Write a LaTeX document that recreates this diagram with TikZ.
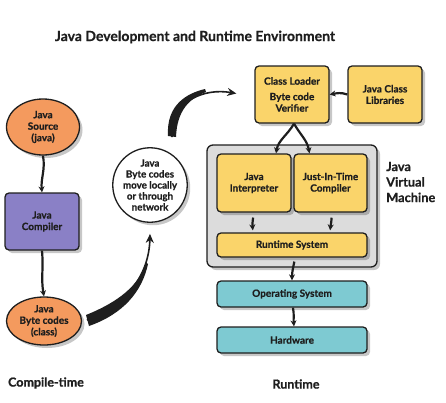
\documentclass[tikz,border=0pt]{standalone}
\usepackage{fontspec}
\setmainfont{Lato}[BoldFeatures={FakeBold=0.6}]
\usetikzlibrary{shapes.geometric,arrows.meta,shadows,calc}
\definecolor{ink}{HTML}{1E1E1E}
\definecolor{orangefill}{HTML}{F49A5E}
\definecolor{purplefill}{HTML}{8A80C6}
\definecolor{yellowfill}{HTML}{FAD46A}
\definecolor{tealfill}{HTML}{7ECAD2}
\definecolor{grayfill}{HTML}{DCDCDC}
\begin{document}
\begin{tikzpicture}[x=1pt,y=-1pt,
  base/.style={draw=ink,line width=1.3pt,inner sep=0pt,align=center,
    font=\fontsize{10}{11.5}\selectfont\bfseries,text=ink,
    drop shadow={shadow xshift=3pt,shadow yshift=-3pt,fill=black,opacity=0.22}},
  oval/.style={base,ellipse,fill=orangefill},
  cbox/.style={base,rectangle,rounded corners=4pt,fill=purplefill},
  ybox/.style={base,rectangle,rounded corners=4pt,fill=yellowfill},
  tbox/.style={base,rectangle,rounded corners=4pt,fill=tealfill},
  arr/.style={draw=ink,line width=2.2pt,-{Stealth[length=6pt,width=6pt]}},
  lbl/.style={font=\fontsize{12.5}{14}\selectfont\bfseries,text=ink,inner sep=0pt}
]
\useasboundingbox (0,0) rectangle (446,402);
\node[lbl,font=\fontsize{14}{16}\selectfont\bfseries] (title) at (195,37) {Java Development and Runtime Environment};

\node[oval,minimum width=73pt,minimum height=56pt] (src) at (43,127) {Java\\Source\\(java)};
\node[cbox,minimum width=74pt,minimum height=57pt] (comp) at (42,221.5) {Java\\Compiler};
\node[oval,minimum width=75pt,minimum height=48pt] (bc) at (44,321) {Java\\Byte codes\\(class)};
\node[lbl] (ct) at (46,383) {Compile-time};

\node[base,circle,fill=white,minimum size=72pt,font=\fontsize{9.8}{11}\selectfont\bfseries] (net) at (150,185) {Java\\Byte codes\\move locally\\or through\\network};

\node[ybox,minimum width=74pt,minimum height=57pt] (cl) at (292,94.5) {Class Loader\\[4pt]Byte code\\Verifier};
\node[ybox,minimum width=74pt,minimum height=57pt] (jcl) at (385,94.5) {Java Class\\Libraries};

\node[base,rectangle,rounded corners=6pt,fill=grayfill,minimum width=170pt,minimum height=122pt] (jvm) at (292,206) {};
\node[ybox,minimum width=74pt,minimum height=58pt,drop shadow={opacity=0}] (int) at (254,183) {Java\\Interpreter};
\node[ybox,minimum width=73pt,minimum height=58pt,drop shadow={opacity=0}] (jit) at (330.5,183) {Just-In-Time\\Compiler};
\node[ybox,minimum width=150pt,minimum height=24pt,drop shadow={opacity=0}] (rts) at (292,245) {Runtime System};
\node[lbl,align=left,anchor=west,font=\fontsize{12.8}{15.5}\selectfont\bfseries] (jvmlbl) at (386,182) {Java\\Virtual\\Machine};

\node[tbox,minimum width=150pt,minimum height=26pt] (os) at (292,294) {Operating System};
\node[tbox,minimum width=150pt,minimum height=26pt] (hw) at (292,340) {Hardware};
\node[lbl] (rt) at (296,384) {Runtime};

% short arrows
\draw[arr] (src.south) to[out=-80,in=95] (comp.north);
\draw[arr] (comp.south) to[out=-85,in=100] (bc.north);
\draw[arr] (jcl.west) to[out=160,in=10] (cl.east);
\coordinate (intn) at ($(int.north)+(22,0)$);
\coordinate (jitn) at ($(jit.north)+(-21,0)$);
\draw[arr] ($(cl.south)+(2,0)$) to[out=-120,in=80] (intn);
\draw[arr] ($(cl.south)+(2,0)$) to[out=-60,in=100] (jitn);
\draw[arr,shorten <=5pt,shorten >=2pt] ($(int.south)+(0,0)$) to[out=-100,in=95] ($(rts.north)+(-39,0)$);
\draw[arr,shorten <=5pt,shorten >=2pt] ($(jit.south)+(0,0)$) to[out=-80,in=85] ($(rts.north)+(38,0)$);
\draw[arr,shorten <=4pt] ($(rts.south)+(3,0)$) to[out=-100,in=90] ($(os.north)+(0,0)$);
\draw[arr] ($(os.south)+(1,0)$) to[out=-80,in=95] ($(hw.north)+(2,0)$);

% big curved arrows
\coordinate (c1s) at (87,320);
\coordinate (c1e) at ($(net.south)+(0,11)$);
\fill[ink] (86,315) .. controls (118,302) and (139,286) .. (146,262)
  -- (148,264) .. controls (142,292) and (123,314) .. (89,326) -- cycle;
\draw[draw=ink,line width=1.6pt,-{Stealth[length=9pt,width=8pt]}] (c1s) .. controls (126,306) and (149,275) .. (c1e);

\coordinate (c2s) at (172,137);
\coordinate (c2e) at ($(cl.west)+(-18,-1)$);
\fill[ink] (168,136) .. controls (166,104) and (188,93) .. (205,89)
  -- (206,92) .. controls (190,98) and (177,110) .. (176,137) -- cycle;
\draw[draw=ink,line width=1.6pt,-{Stealth[length=9pt,width=8pt]}] (c2s) .. controls (171,100) and (205,88) .. (c2e);
\end{tikzpicture}
\end{document}
